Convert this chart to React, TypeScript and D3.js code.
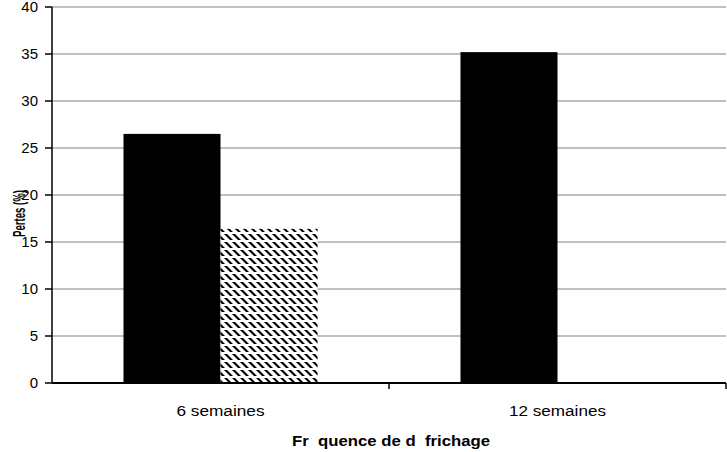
import React from "react";
import * as d3 from "d3";

const categories = ["6 semaines", "12 semaines"];
const seriesNames = ["s1", "s2"];
const series1 = [26.5, 35.2];
const series2 = [16.4, 0];
const yTicks = [0, 5, 10, 15, 20, 25, 30, 35, 40];

const W = 727;
const H = 452;
const left = 52;
const right = 726;
const top = 7;
const bottom = 383;

export default function App() {
  const x0 = d3.scaleBand<string>().domain(categories).range([left, right]).paddingInner(0).paddingOuter(0);
  const x1 = d3.scaleBand<string>().domain(seriesNames).range([0, x0.bandwidth()]).paddingInner(0).paddingOuter(0.737);
  const y = d3.scaleLinear().domain([0, 40]).range([bottom, top]);
  const font = "'Liberation Sans', Arial, sans-serif";
  const values = [series1, series2];

  return (
    <svg width={W} height={H} style={{ position: "absolute", left: 0, top: 0 }}>
      <defs>
        <pattern id="hatch" width="8" height="8" patternUnits="userSpaceOnUse">
          <rect width="8" height="8" fill="#fff" />
          <polygon points="0,2 3,2 9,8 6,8" fill="#000" />
          <polygon points="-8,2 -5,2 1,8 -2,8" fill="#000" />
        </pattern>
      </defs>
      <rect width={W} height={H} fill="#fff" />
      {yTicks.filter((t) => t > 0).map((t) => (
        <line key={"g" + t} x1={left} x2={right} y1={y(t)} y2={y(t)} stroke="#c0c0c0" strokeWidth={2} />
      ))}
      {categories.map((c, ci) =>
        seriesNames.map((s, si) => {
          const v = values[si][ci];
          if (!v) return null;
          return (
            <rect
              key={c + s}
              x={(x0(c) as number) + (x1(s) as number)}
              y={y(v)}
              width={x1.bandwidth()}
              height={y(0) - y(v)}
              fill={si === 0 ? "#000" : "url(#hatch)"}
            />
          );
        })
      )}
      <line x1={left} x2={left} y1={top} y2={bottom} stroke="#000" strokeWidth={1.5} />
      {yTicks.map((t) => (
        <g key={"t" + t}>
          <line x1={left - 7} x2={left} y1={y(t)} y2={y(t)} stroke="#000" strokeWidth={1.5} />
          <text x={38} y={y(t) + 5} textAnchor="end" fontFamily={font} fontSize={15} fill="#000">
            {t}
          </text>
        </g>
      ))}
      <line x1={left} x2={right} y1={bottom} y2={bottom} stroke="#000" strokeWidth={2} />
      {[x0(categories[1]) as number, right].map((px, i) => (
        <line key={"xt" + i} x1={px} x2={px} y1={bottom} y2={bottom + 6} stroke="#000" strokeWidth={1.5} />
      ))}
      {categories.map((c) => (
        <text
          key={"xl" + c}
          x={(x0(c) as number) + x0.bandwidth() / 2}
          y={416}
          textAnchor="middle"
          fontFamily={font}
          fontSize={14}
          fill="#000"
          textLength={c.length === 10 ? 88 : 97}
          lengthAdjust="spacingAndGlyphs"
        >
          {c}
        </text>
      ))}
      <text
        x={(left + right) / 2 + 2}
        y={446}
        textAnchor="middle"
        fontFamily={font}
        fontSize={14}
        fontWeight="bold"
        fill="#000"
        textLength={198}
        lengthAdjust="spacingAndGlyphs"
        style={{ whiteSpace: "pre" }}
      >
        {"Fr\u00a0\u00a0quence de d\u00a0\u00a0frichage"}
      </text>
      <text
        transform="translate(25,213.5) rotate(-90)"
        textAnchor="middle"
        fontFamily={font}
        fontSize={17}
        fontWeight="bold"
        fill="#000"
        textLength={47}
        lengthAdjust="spacingAndGlyphs"
      >
        Pertes (%)
      </text>
    </svg>
  );
}
